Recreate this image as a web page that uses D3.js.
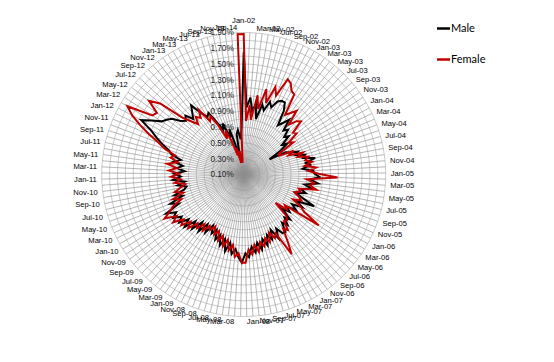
<!DOCTYPE html>
<html>
<head>
<meta charset="utf-8">
<script src="https://cdn.jsdelivr.net/npm/d3@7"></script>
<style>
  body { margin: 0; background: #fff; }
  svg { display: block; }
  .cat { font-family: "Liberation Sans", Arial, sans-serif; font-size: 7.6px; fill: #000; }
  .val { font-family: "Liberation Sans", Arial, sans-serif; font-size: 8.2px; fill: #222; }
  .leg { font-family: Lato, "Open Sans", sans-serif; font-size: 11px; fill: #000; }
</style>
</head>
<body>
<div id="chart"></div>
<script>
// Radar chart, monthly shares Male / Female
///

const categories = [
  "Jan-02","Feb-02","Mar-02","Apr-02","May-02","Jun-02","Jul-02","Aug-02","Sep-02","Oct-02","Nov-02","Dec-02",
  "Jan-03","Feb-03","Mar-03","Apr-03","May-03","Jun-03","Jul-03","Aug-03","Sep-03","Oct-03","Nov-03","Dec-03",
  "Jan-04","Feb-04","Mar-04","Apr-04","May-04","Jun-04","Jul-04","Aug-04","Sep-04","Oct-04","Nov-04","Dec-04",
  "Jan-05","Feb-05","Mar-05","Apr-05","May-05","Jun-05","Jul-05","Aug-05","Sep-05","Oct-05","Nov-05","Dec-05",
  "Jan-06","Feb-06","Mar-06","Apr-06","May-06","Jun-06","Jul-06","Aug-06","Sep-06","Oct-06","Nov-06","Dec-06",
  "Jan-07","Feb-07","Mar-07","Apr-07","May-07","Jun-07","Jul-07","Aug-07","Sep-07","Oct-07","Nov-07","Dec-07",
  "Jan-08","Feb-08","Mar-08","Apr-08","May-08","Jun-08","Jul-08","Aug-08","Sep-08","Oct-08","Nov-08","Dec-08",
  "Jan-09","Feb-09","Mar-09","Apr-09","May-09","Jun-09","Jul-09","Aug-09","Sep-09","Oct-09","Nov-09","Dec-09",
  "Jan-10","Feb-10","Mar-10","Apr-10","May-10","Jun-10","Jul-10","Aug-10","Sep-10","Oct-10","Nov-10","Dec-10",
  "Jan-11","Feb-11","Mar-11","Apr-11","May-11","Jun-11","Jul-11","Aug-11","Sep-11","Oct-11","Nov-11","Dec-11",
  "Jan-12","Feb-12","Mar-12","Apr-12","May-12","Jun-12","Jul-12","Aug-12","Sep-12","Oct-12","Nov-12","Dec-12",
  "Jan-13","Feb-13","Mar-13","Apr-13","May-13","Jun-13","Jul-13","Aug-13","Sep-13","Oct-13","Nov-13","Dec-13",
  "Jan-14"
];

// values in %
const male = [
  1.65,0.95,1.08,0.92,1.00,0.82,1.02,0.95,1.08,1.02,1.12,1.15,
  1.15,1.05,0.86,0.92,1.00,0.85,0.90,0.80,0.85,0.72,0.78,0.65,
  0.48,0.70,0.75,0.85,0.80,0.92,0.88,1.03,0.90,0.95,0.85,0.98,
  1.00,1.06,0.95,1.05,0.88,0.98,0.85,0.92,0.80,0.90,1.08,0.85,
  0.95,0.82,0.90,0.78,0.85,0.75,0.92,0.85,0.95,0.88,1.00,0.99,
  0.90,1.02,0.88,1.00,0.92,1.05,0.95,1.08,0.98,1.10,1.02,1.15,
  1.10,1.22,1.15,1.05,1.12,0.98,1.10,0.95,1.05,0.92,1.00,0.88,
  0.95,0.85,0.98,0.88,1.02,0.90,1.05,0.95,1.10,1.00,1.12,1.05,
  1.15,1.08,1.20,1.00,1.10,0.92,1.02,0.88,0.84,0.95,0.85,1.00,
  0.90,0.98,0.85,0.95,0.88,1.00,0.92,1.05,1.10,1.20,1.30,1.40,
  1.57,1.45,1.34,1.30,1.25,1.15,1.10,1.15,1.05,1.12,1.20,1.05,
  0.96,1.00,0.85,0.72,0.80,0.60,0.70,0.45,0.30,0.62,0.67,0.55,
  0.70
];

const female = [
  1.88,0.78,0.98,0.80,1.12,0.95,1.22,1.05,1.28,1.18,1.43,1.40,
  1.32,1.30,1.02,1.08,1.15,0.95,1.05,1.09,0.92,0.95,0.80,0.85,
  0.62,0.61,0.80,0.72,0.90,0.82,0.95,0.90,0.98,0.88,1.02,0.92,
  1.05,1.29,0.90,1.00,0.95,1.04,0.82,0.85,0.78,0.85,0.90,0.80,
  0.92,1.00,1.25,0.75,0.80,0.64,0.85,0.90,0.88,1.00,0.95,1.10,
  1.28,0.95,1.00,0.90,1.02,0.95,1.05,0.98,1.10,1.00,1.12,1.05,
  1.22,1.22,1.10,1.15,1.00,1.08,0.95,1.05,0.92,1.00,0.88,0.95,
  0.85,0.92,0.88,0.98,0.90,1.00,0.95,1.08,1.00,1.12,1.05,1.18,
  1.10,1.25,1.15,1.08,0.95,1.05,0.90,1.00,0.92,0.85,0.98,0.90,
  1.02,0.92,1.05,0.95,1.08,0.95,1.05,1.00,1.15,1.25,1.40,1.55,
  1.70,1.81,1.48,1.45,1.62,1.49,1.16,1.05,0.96,1.05,1.00,1.10,
  0.90,0.95,0.80,0.60,0.70,0.56,0.35,0.45,0.25,0.40,0.30,0.25,
  1.88
];

const tickValues = [0.1,0.3,0.5,0.7,0.9,1.1,1.3,1.5,1.7,1.9];
const gridValues = [0.2,0.3,0.4,0.5,0.6,0.7,0.8,0.9,1.0,1.1,1.2,1.3,1.4,1.5,1.6,1.7,1.8,1.9];

const series = [
  { name: "Male", values: male, color: "#000000" },
  { name: "Female", values: female, color: "#c00000" }
];

const W = 554, H = 362;
const cx = 243.7, cy = 174.5, R = 142;

let svg = d3.select("#chart").append("svg")
  .attr("width", W).attr("height", H);

const angle = d3.scaleBand().domain(categories).range([0, 2 * Math.PI]);
const r = d3.scaleLinear().domain([0.1, 1.9]).range([0, R]);

let g = svg.append("g").attr("transform", "translate(" + cx + "," + cy + ")");

// rings
const ring = d3.lineRadial()
  .angle(function(d){ return angle(d) })
  .curve(d3.curveLinearClosed);

g.append("g").selectAll("path")
  .data(gridValues)
  .enter().append("path")
  .attr("d", function(v){ return ring.radius(r(v))(categories) })
  .attr("fill", "none")
  .attr("stroke", "#a8a8a8")
  .attr("stroke-width", 0.6);

// spokes
g.append("g").selectAll("line")
  .data(categories)
  .enter().append("line")
  .attr("x1", 0).attr("y1", 0)
  .attr("x2", function(d){ return R * Math.sin(angle(d)) })
  .attr("y2", function(d){ return -R * Math.cos(angle(d)) })
  .attr("stroke", "#8f8f8f")
  .attr("stroke-width", 0.65);

// value labels
g.append("g").selectAll("text")
  .data(tickValues)
  .enter().append("text")
  .attr("class", "val")
  .attr("x", -10)
  .attr("y", function(v){ return -r(v) })
  .attr("dy", "0.35em")
  .attr("text-anchor", "end")
  .text(function(v){ return d3.format(".2f")(v) + "%" });

// category labels, every second month
const lr = R + 5;
g.append("g").selectAll("text")
  .data(categories.filter(function(d, i){ return i % 2 == 0 }))
  .enter().append("text")
  .attr("class", "cat")
  .each(function(d){
    let a = angle(d);
    let s = Math.sin(a), c = Math.cos(a);
    let top = Math.abs(s) < 1e-6;
    let anchor = top ? "middle" : (s > 0 ? "start" : "end");
    d3.select(this)
      .attr("x", lr * s)
      .attr("y", -lr * c + (top ? -7 : 0))
      .attr("dy", "0.35em")
      .attr("text-anchor", anchor)
      .text(d);
  });

// series
const radar = d3.lineRadial()
  .angle(function(d, i){ return angle(categories[i]) })
  .radius(function(d){ return r(d) })
  .curve(d3.curveLinearClosed);

g.append("g").selectAll("path")
  .data(series)
  .enter().append("path")
  .attr("d", function(s){ return radar(s.values) })
  .attr("fill", "none")
  .attr("stroke", function(s){ return s.color })
  .attr("stroke-width", 2)
  .attr("stroke-linejoin", "miter");

// legend
let legend = svg.append("g").selectAll("g")
  .data(series)
  .enter().append("g")
  .attr("transform", function(s, i){ return "translate(437," + (28.5 + i * 31) + ")" });

legend.append("line")
  .attr("x1", 0).attr("x2", 13)
  .attr("stroke", function(s){ return s.color })
  .attr("stroke-width", 2.5);

legend.append("text")
  .attr("class", "leg")
  .attr("x", 14)
  .attr("dy", "0.35em")
  .text(function(s){ return s.name });
</script>
</body>
</html>
